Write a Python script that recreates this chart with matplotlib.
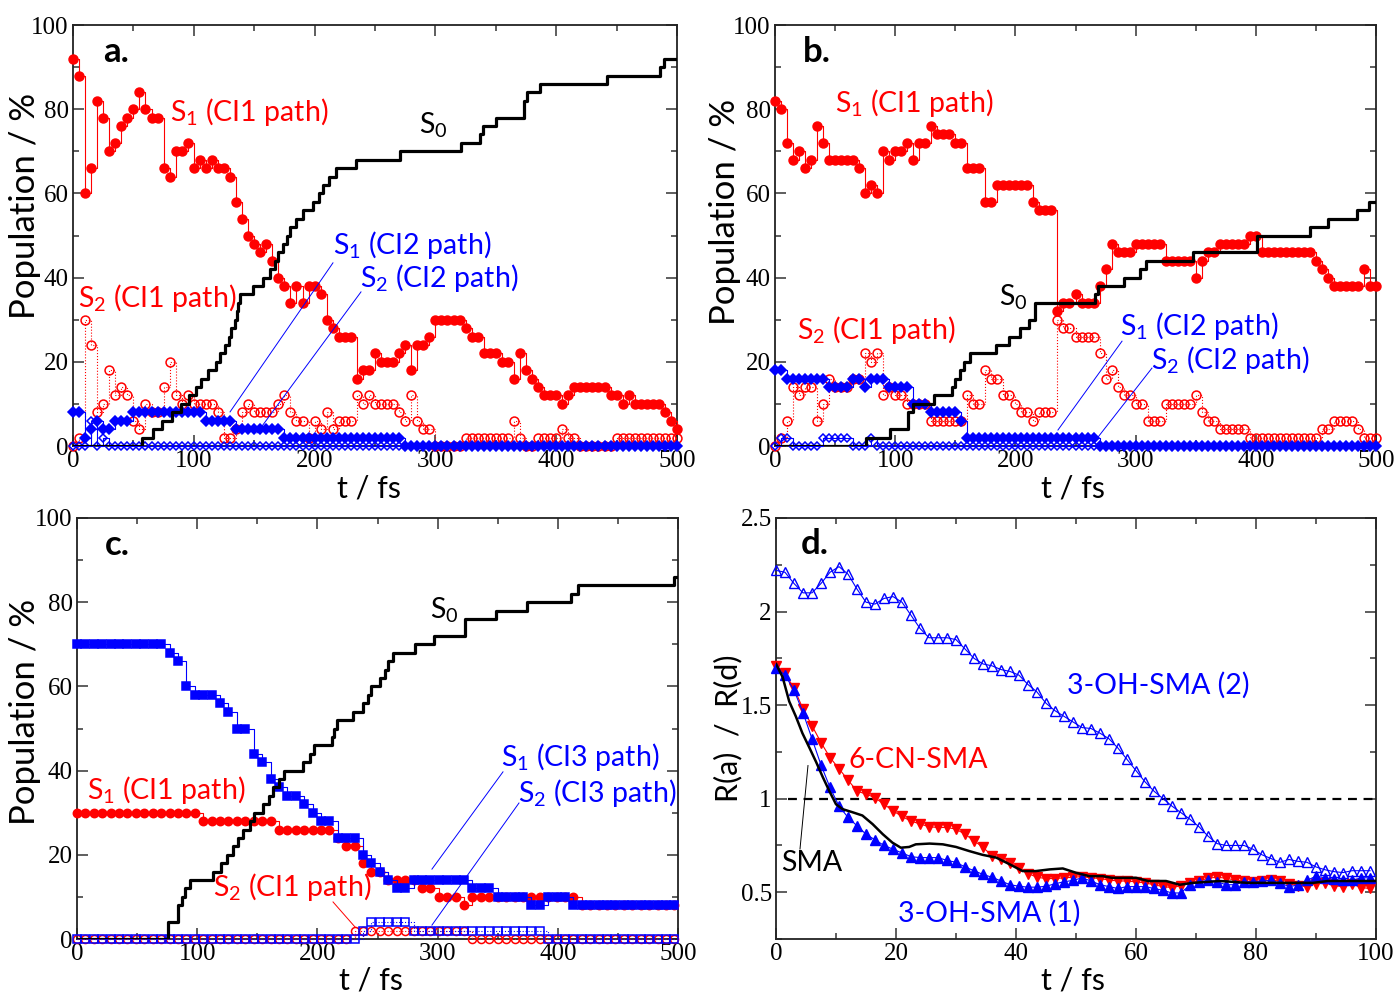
import numpy as np
import matplotlib
matplotlib.use('Agg')
import matplotlib.pyplot as plt
from matplotlib.ticker import MultipleLocator, FuncFormatter

RED = '#ff0000'
BLUE = '#0000ff'

plt.rcParams['font.family'] = ['Lato', 'DejaVu Sans']
plt.rcParams['mathtext.default'] = 'regular'

# ---------------- Panel a data (t grid every 5 fs) ----------------
t_ab = np.arange(0, 501, 5)

a_s1_ci1 = [92, 88, 60, 66, 82, 78, 70, 72, 76, 78,
            80, 84, 80, 78, 78, 66, 64, 70, 70, 72,
            66, 68, 66, 68, 66, 66, 64, 58, 54, 50,
            48, 46, 48, 44, 40, 38, 34, 38, 34, 38,
            38, 36, 30, 28, 26, 26, 26, 16, 18, 18,
            22, 20, 20, 20, 22, 24, 18, 24, 24, 26,
            30, 30, 30, 30, 30, 28, 26, 26, 22, 22,
            22, 20, 20, 16, 22, 18, 16, 14, 12, 12,
            12, 10, 12, 14, 14, 14, 14, 14, 14, 12,
            12, 10, 12, 10, 10, 10, 10, 10, 8, 6,
            4]
a_s2_ci1 = [0, 2, 30, 24, 8, 10, 18, 12, 14, 12,
            6, 4, 10, 8, 8, 14, 20, 12, 10, 12,
            10, 10, 10, 10, 8, 2, 2, 4, 8, 10,
            8, 8, 8, 8, 10, 12, 8, 6, 6, 2,
            6, 4, 8, 4, 6, 6, 6, 12, 10, 12,
            10, 10, 10, 10, 8, 6, 12, 6, 4, 4,
            0, 0, 0, 0, 0, 2, 2, 2, 2, 2,
            2, 2, 2, 6, 2, 0, 0, 2, 2, 2,
            2, 4, 2, 2, 0, 0, 0, 0, 0, 0,
            2, 2, 2, 2, 2, 2, 2, 2, 2, 2,
            2]
a_s1_ci2 = [8, 8, 2, 4, 6, 4, 4, 6, 6, 6,
            8, 8, 8, 8, 8, 8, 8, 8, 8, 8,
            8, 8, 6, 6, 6, 6, 6, 4, 4, 4,
            4, 4, 4, 4, 4, 2, 2, 2, 2, 2,
            2, 2, 2, 2, 2, 2, 2, 2, 2, 2,
            2, 2, 2, 2, 2, 0, 0, 0, 0, 0,
            0, 0, 0, 0, 0, 0, 0, 0, 0, 0,
            0, 0, 0, 0, 0, 0, 0, 0, 0, 0,
            0, 0, 0, 0, 0, 0, 0, 0, 0, 0,
            0, 0, 0, 0, 0, 0, 0, 0, 0, 0,
            0]
a_s2_ci2 = [0, 0, 0, 6, 0, 2, 0, 0, 0, 0,
            0, 0, 0, 0, 0, 0, 0, 0, 0, 0,
            0, 0, 0, 0, 0, 0, 0, 0, 0, 0,
            0, 0, 0, 0, 0, 0, 0, 0, 0, 0,
            0, 0, 0, 0, 0, 0, 0, 0, 0, 0,
            0, 0, 0, 0, 0, 0, 0, 0, 0, 0,
            0, 0, 0, 0, 0, 0, 0, 0, 0, 0,
            0, 0, 0, 0, 0, 0, 0, 0, 0, 0,
            0, 0, 0, 0, 0, 0, 0, 0, 0, 0,
            0, 0, 0, 0, 0, 0, 0, 0, 0, 0,
            0]
a_s0_t = [0, 57, 66, 74, 82, 89, 96, 102, 106, 112, 118, 122, 126, 129, 131, 134,
          136, 137, 138, 149, 157, 163, 167, 170, 174, 177, 180, 185, 190, 199,
          204, 207, 212, 218, 234, 271, 321, 337, 339, 350, 373, 376, 387, 442,
          486, 489, 500]
a_s0_v = [0, 2, 4, 6, 8, 10, 12, 14, 16, 18, 20, 22, 24, 26, 28, 30,
          32, 34, 36, 38, 40, 42, 44, 46, 48, 50, 52, 54, 56, 58,
          60, 62, 64, 66, 68, 70, 72, 74, 76, 78, 82, 84, 86, 88,
          90, 92, 92]

# ---------------- Panel b data ----------------
b_s1_ci1 = [82, 80, 72, 68, 70, 66, 68, 76, 72, 68,
            68, 68, 68, 68, 66, 60, 62, 60, 70, 68,
            70, 70, 72, 68, 72, 72, 76, 74, 74, 74,
            72, 72, 66, 66, 66, 58, 58, 62, 62, 62,
            62, 62, 62, 58, 56, 56, 56, 32, 34, 34,
            36, 34, 34, 34, 38, 42, 48, 46, 46, 46,
            48, 48, 48, 48, 48, 44, 44, 44, 44, 44,
            40, 44, 46, 46, 48, 48, 48, 48, 48, 50,
            50, 46, 46, 46, 46, 46, 46, 46, 46, 46,
            44, 42, 40, 38, 38, 38, 38, 38, 42, 38,
            38]
b_s2_ci1 = [0, 2, 6, 14, 12, 14, 14, 6, 10, 16,
            14, 14, 14, 16, 16, 22, 20, 22, 12, 14,
            12, 12, 10, 10, 10, 10, 6, 6, 6, 6,
            6, 6, 12, 10, 10, 18, 16, 16, 12, 12,
            10, 8, 8, 6, 8, 8, 8, 30, 28, 28,
            26, 26, 26, 26, 22, 16, 18, 14, 12, 12,
            10, 10, 6, 6, 6, 10, 10, 10, 10, 10,
            12, 8, 6, 6, 4, 4, 4, 4, 4, 2,
            2, 2, 2, 2, 2, 2, 2, 2, 2, 2,
            2, 4, 4, 6, 6, 6, 6, 4, 2, 2,
            2]
b_s1_ci2 = [18, 18, 16, 16, 16, 16, 16, 16, 16, 14,
            14, 14, 14, 16, 16, 14, 16, 16, 16, 14,
            14, 14, 14, 10, 10, 10, 8, 8, 8, 8,
            8, 6, 2, 2, 2, 2, 2, 2, 2, 2,
            2, 2, 2, 2, 2, 2, 2, 2, 2, 2,
            2, 2, 2, 2, 0, 0, 0, 0, 0, 0,
            0, 0, 0, 0, 0, 0, 0, 0, 0, 0,
            0, 0, 0, 0, 0, 0, 0, 0, 0, 0,
            0, 0, 0, 0, 0, 0, 0, 0, 0, 0,
            0, 0, 0, 0, 0, 0, 0, 0, 0, 0,
            0]
b_s2_ci2 = [0, 2, 2, 0, 0, 0, 0, 0, 2, 2,
            2, 2, 2, 0, 0, 0, 2, 0, 0, 0,
            0, 0, 0, 0, 0, 0, 0, 0, 0, 0,
            0, 0, 0, 0, 0, 0, 0, 0, 0, 0,
            0, 0, 0, 0, 0, 0, 0, 0, 0, 0,
            0, 0, 0, 0, 0, 0, 0, 0, 0, 0,
            0, 0, 0, 0, 0, 0, 0, 0, 0, 0,
            0, 0, 0, 0, 0, 0, 0, 0, 0, 0,
            0, 0, 0, 0, 0, 0, 0, 0, 0, 0,
            0, 0, 0, 0, 0, 0, 0, 0, 0, 0,
            0]
b_s0_t = [0, 76, 96, 111, 115, 132, 147, 150, 154, 157, 162, 184, 195, 204, 211,
          216, 266, 269, 290, 304, 309, 348, 401, 445, 460, 484, 494, 500]
b_s0_v = [0, 2, 4, 8, 10, 12, 14, 16, 18, 20, 22, 24, 26, 28, 30,
          34, 36, 38, 40, 42, 44, 46, 50, 52, 54, 56, 58, 58]

# ---------------- Panel c data (t grid every 7 fs) ----------------
t_c = np.arange(0, 500, 7)

c_s1_ci3 = [70, 70, 70, 70, 70, 70, 70, 70, 70, 70,
            70, 68, 66, 60, 58, 58, 58, 56, 54, 50,
            50, 44, 42, 38, 36, 34, 34, 32, 30, 28,
            28, 24, 24, 24, 20, 18, 16, 14, 12, 12,
            14, 14, 14, 14, 14, 14, 14, 12, 12, 12,
            10, 10, 10, 10, 8, 8, 10, 10, 10, 8,
            8, 8, 8, 8, 8, 8, 8, 8, 8, 8,
            8, 8]
c_s1_ci1 = [30, 30, 30, 30, 30, 30, 30, 30, 30, 30,
            30, 30, 30, 30, 30, 28, 28, 28, 28, 28,
            28, 28, 28, 28, 26, 26, 26, 26, 26, 26,
            26, 24, 22, 22, 18, 16, 16, 14, 14, 14,
            14, 12, 12, 10, 10, 10, 8, 10, 10, 10,
            10, 10, 10, 10, 10, 10, 10, 10, 10, 10,
            8, 8, 8, 8, 8, 8, 8, 8, 8, 8,
            8, 8]
c_s2_ci1 = [0, 0, 0, 0, 0, 0, 0, 0, 0, 0,
            0, 0, 0, 0, 0, 0, 0, 0, 0, 0,
            0, 0, 0, 0, 0, 0, 0, 0, 0, 0,
            0, 0, 0, 2, 2, 2, 2, 2, 2, 2,
            2, 2, 2, 2, 2, 2, 2, 0, 0, 0,
            0, 0, 0, 0, 0, 0, 0, 0, 0, 0,
            0, 0, 0, 0, 0, 0, 0, 0, 0, 0,
            0, 0]
c_s2_ci3 = [0, 0, 0, 0, 0, 0, 0, 0, 0, 0,
            0, 0, 0, 0, 0, 0, 0, 0, 0, 0,
            0, 0, 0, 0, 0, 0, 0, 0, 0, 0,
            0, 0, 0, 0, 2, 4, 4, 4, 4, 4,
            2, 2, 2, 2, 2, 2, 2, 2, 2, 2,
            2, 2, 2, 2, 2, 2, 0, 0, 0, 0,
            0, 0, 0, 0, 0, 0, 0, 0, 0, 0,
            0, 0]
c_s0_t = [0, 76, 84, 87, 90, 94, 113, 120, 125, 130, 134, 138, 144, 147, 155, 160,
          163, 168, 172, 188, 194, 197, 212, 214, 216, 230, 238, 242, 245, 252,
          256, 259, 263, 281, 297, 323, 349, 374, 411, 417, 497, 500]
c_s0_v = [0, 4, 8, 10, 12, 14, 16, 18, 20, 22, 24, 26, 28, 30, 32, 34,
          36, 38, 40, 42, 44, 46, 48, 50, 52, 54, 56, 58, 60, 62,
          64, 66, 68, 70, 72, 76, 78, 80, 82, 84, 86, 86]

# ---------------- Panel d data (t grid every 1.5 fs) ----------------
t_d = np.arange(0, 100, 1.5)

d_oh2 = [2.22, 2.21, 2.15, 2.10, 2.10, 2.15, 2.21, 2.24, 2.20, 2.12,
         2.05, 2.04, 2.07, 2.08, 2.05, 1.98, 1.91, 1.86, 1.86, 1.86,
         1.85, 1.80, 1.75, 1.72, 1.71, 1.69, 1.68, 1.66, 1.61, 1.57,
         1.51, 1.47, 1.44, 1.41, 1.38, 1.375, 1.35, 1.32, 1.27, 1.21,
         1.15, 1.09, 1.04, 1.00, 0.96, 0.925, 0.89, 0.85, 0.80, 0.76,
         0.75, 0.75, 0.75, 0.73, 0.70, 0.68, 0.66, 0.675, 0.665, 0.66,
         0.635, 0.62, 0.61, 0.605, 0.615, 0.615, 0.615]
d_cn = [1.71, 1.67, 1.59, 1.48, 1.39, 1.30, 1.22, 1.16, 1.10, 1.04,
        1.025, 1.005, 0.97, 0.935, 0.905, 0.88, 0.865, 0.85, 0.846, 0.846,
        0.837, 0.81, 0.775, 0.74, 0.695, 0.675, 0.657, 0.63, 0.60, 0.58,
        0.573, 0.573, 0.577, 0.58, 0.583, 0.577, 0.573, 0.565, 0.56, 0.56,
        0.555, 0.55, 0.54, 0.53, 0.525, 0.535, 0.55, 0.56, 0.575, 0.58,
        0.575, 0.565, 0.56, 0.555, 0.56, 0.565, 0.56, 0.545, 0.535, 0.53,
        0.545, 0.55, 0.535, 0.53, 0.545, 0.525, 0.52]
d_oh1 = [1.70, 1.66, 1.58, 1.46, 1.32, 1.18, 1.06, 0.96, 0.90, 0.855,
         0.81, 0.78, 0.75, 0.73, 0.71, 0.69, 0.685, 0.685, 0.685, 0.67,
         0.66, 0.635, 0.615, 0.595, 0.58, 0.56, 0.54, 0.532, 0.527, 0.527,
         0.532, 0.545, 0.556, 0.563, 0.577, 0.56, 0.54, 0.53, 0.52, 0.53,
         0.53, 0.53, 0.52, 0.51, 0.496, 0.496, 0.54, 0.556, 0.563, 0.556,
         0.54, 0.54, 0.556, 0.556, 0.56, 0.563, 0.55, 0.53, 0.538, 0.563,
         0.586, 0.577, 0.568, 0.563, 0.563, 0.577, 0.577]
d_sma_t = [0, 1.1, 2.2, 3.3, 4.4, 5.6, 6.7, 7.8, 8.9, 10, 11.1, 12.8, 14.4, 16.1,
           17.8, 19.4, 20.8, 22.2, 23.3, 25.6, 27.8, 30, 32.2, 34.4, 36.7, 38.9,
           41.1, 43.3, 45.6, 47.8, 50, 52.2, 54.4, 56, 60, 62, 65, 67.3, 69.5,
           74, 78.6, 83, 86, 89.5, 92, 96, 100]
d_sma = [1.72, 1.65, 1.52, 1.44, 1.35, 1.27, 1.195, 1.115, 1.04, 0.97, 0.944,
         0.927, 0.91, 0.864, 0.81, 0.765, 0.738, 0.742, 0.756, 0.76, 0.756,
         0.742, 0.72, 0.70, 0.685, 0.65, 0.613, 0.613, 0.622, 0.627, 0.604,
         0.586, 0.586, 0.577, 0.577, 0.56, 0.56, 0.54, 0.55, 0.56, 0.55, 0.55,
         0.55, 0.55, 0.56, 0.56, 0.56]

# ---------------- Figure ----------------
W, H = 1399, 996
fig = plt.figure(figsize=(W / 100, H / 100), dpi=100)


def px_axes(l, r, t, b):
    return fig.add_axes([l / W, 1 - b / H, (r - l) / W, (b - t) / H])


axa = px_axes(73, 677, 25, 446)
axb = px_axes(775, 1376, 25, 446)
axc = px_axes(77, 678, 518, 939)
axd = px_axes(776, 1376, 518, 939)

TICKFONT = dict(family='Liberation Serif', size=18)
XLABSIZE = 22
ANNSIZE = 20.5


def style(ax, xmaj, xmin, ymaj, ymin):
    ax.xaxis.set_major_locator(MultipleLocator(xmaj))
    ax.xaxis.set_minor_locator(MultipleLocator(xmin))
    ax.yaxis.set_major_locator(MultipleLocator(ymaj))
    ax.yaxis.set_minor_locator(MultipleLocator(ymin))
    ax.tick_params(which='both', direction='in', top=True, right=True,
                   width=1.1, color='#333333', pad=3)
    ax.tick_params(which='major', length=8)
    ax.tick_params(which='minor', length=4.5)
    for lab in ax.get_xticklabels() + ax.get_yticklabels():
        lab.set_fontfamily(TICKFONT['family'])
        lab.set_fontsize(TICKFONT['size'])
    ax.xaxis.set_major_formatter(FuncFormatter(lambda v, p: '%g' % v))
    ax.yaxis.set_major_formatter(FuncFormatter(lambda v, p: '%g' % v))
    for s in ax.spines.values():
        s.set_linewidth(1.3)
        s.set_color('#222222')


def labels(ax, ylab, xl_y, yl_x, yl_y, xl_x=0.49, ysize=25):
    ax.text(xl_x, xl_y, 't / fs', transform=ax.transAxes, ha='center',
            va='center', fontsize=XLABSIZE)
    ax.text(yl_x, yl_y, ylab, transform=ax.transAxes, ha='center',
            va='center', rotation=90, fontsize=ysize)


def ms_series(ax, t, v, color, marker, filled, ms, ls='-', z=3):
    ax.plot(t, v, color=color, lw=0.8, ls=ls, drawstyle='steps-post',
            marker=marker, ms=ms, mec=color,
            mfc=color if filled else 'none', mew=1.1, clip_on=False, zorder=z)


# ---- panel a ----
ax = axa
ms_series(ax, t_ab, a_s2_ci1, RED, 'o', False, 6.4, ls=':', z=3)
ms_series(ax, t_ab, a_s1_ci1, RED, 'o', True, 6.4, z=4)
ms_series(ax, t_ab, a_s2_ci2, BLUE, 'D', False, 4.5, z=5)
ms_series(ax, t_ab, a_s1_ci2, BLUE, 'D', True, 5.0, z=6)
ax.plot(a_s0_t, a_s0_v, color='black', lw=2.3, drawstyle='steps-post', zorder=7)
ax.set_xlim(0, 500)
ax.set_ylim(0, 100)
style(ax, 100, 50, 20, 10)
ax.text(36, 93.6, 'a.', fontsize=25, fontweight='bold', ha='center', va='center')
ax.text(145.7, 79.3, 'S$_1$ (CI1 path)', color=RED, fontsize=ANNSIZE, ha='center', va='center')
ax.text(298, 76.2, 'S$_0$', color='black', fontsize=ANNSIZE, ha='center', va='center')
ax.text(69.5, 35.2, 'S$_2$ (CI1 path)', color=RED, fontsize=ANNSIZE, ha='center', va='center')
ax.text(280.6, 47.7, 'S$_1$ (CI2 path)', color=BLUE, fontsize=ANNSIZE, ha='center', va='center')
ax.text(303, 39.9, 'S$_2$ (CI2 path)', color=BLUE, fontsize=ANNSIZE, ha='center', va='center')
ax.plot([215.2, 130], [43.5, 8.1], color=BLUE, lw=0.7, zorder=8)
ax.plot([238.4, 152.3], [36.6, 3.1], color=BLUE, lw=0.7, zorder=8)
labels(ax, 'Population / %', -0.1, -0.079, 0.57)

# ---- panel b ----
ax = axb
ms_series(ax, t_ab, b_s2_ci1, RED, 'o', False, 6.4, ls=':', z=3)
ms_series(ax, t_ab, b_s1_ci1, RED, 'o', True, 6.4, z=4)
ms_series(ax, t_ab, b_s2_ci2, BLUE, 'D', False, 4.5, z=5)
ms_series(ax, t_ab, b_s1_ci2, BLUE, 'D', True, 5.0, z=6)
ax.plot(b_s0_t, b_s0_v, color='black', lw=2.3, drawstyle='steps-post', zorder=7)
ax.set_xlim(0, 500)
ax.set_ylim(0, 100)
style(ax, 100, 50, 20, 10)
ax.text(35, 93.6, 'b.', fontsize=25, fontweight='bold', ha='center', va='center')
ax.text(115.6, 81.5, 'S$_1$ (CI1 path)', color=RED, fontsize=ANNSIZE, ha='center', va='center')
ax.text(198, 35.4, 'S$_0$', color='black', fontsize=ANNSIZE, ha='center', va='center')
ax.text(84, 27.6, 'S$_2$ (CI1 path)', color=RED, fontsize=ANNSIZE, ha='center', va='center')
ax.text(352.7, 28.5, 'S$_1$ (CI2 path)', color=BLUE, fontsize=ANNSIZE, ha='center', va='center')
ax.text(378.5, 20.4, 'S$_2$ (CI2 path)', color=BLUE, fontsize=ANNSIZE, ha='center', va='center')
ax.plot([288.7, 235.4], [24.9, 3.8], color=BLUE, lw=0.7, zorder=8)
ax.plot([313.6, 268.7], [18.5, 2.1], color=BLUE, lw=0.7, zorder=8)
labels(ax, 'Population / %', -0.1, -0.083, 0.555, xl_x=0.496)

# ---- panel c ----
ax = axc
ms_series(ax, t_c, c_s2_ci1, RED, 'o', False, 5.8, ls=':', z=3)
ms_series(ax, t_c, c_s2_ci3, BLUE, 's', False, 5.2, ls=':', z=4)
ms_series(ax, t_c, c_s1_ci1, RED, 'o', True, 6.0, z=5)
ms_series(ax, t_c, c_s1_ci3, BLUE, 's', True, 5.6, z=6)
ax.plot(c_s0_t, c_s0_v, color='black', lw=2.3, drawstyle='steps-post', zorder=7)
ax.set_xlim(0, 500)
ax.set_ylim(0, 100)
style(ax, 100, 50, 20, 10)
ax.text(33.3, 93.6, 'c.', fontsize=25, fontweight='bold', ha='center', va='center')
ax.text(306, 78.1, 'S$_0$', color='black', fontsize=ANNSIZE, ha='center', va='center')
ax.text(74, 35.4, 'S$_1$ (CI1 path)', color=RED, fontsize=ANNSIZE, ha='center', va='center')
ax.text(179, 12.4, 'S$_2$ (CI1 path)', color=RED, fontsize=ANNSIZE, ha='center', va='center')
ax.text(418.5, 43.2, 'S$_1$ (CI3 path)', color=BLUE, fontsize=ANNSIZE, ha='center', va='center')
ax.text(432.6, 34.7, 'S$_2$ (CI3 path)', color=BLUE, fontsize=ANNSIZE, ha='center', va='center')
ax.plot([213, 231.3], [8.8, 2.85], color=RED, lw=0.7, zorder=8)
ax.plot([354.4, 295.3], [39.7, 16.6], color=BLUE, lw=0.7, zorder=8)
ax.plot([367.7, 295.3], [32.3, 3.3], color=BLUE, lw=0.7, zorder=8)
labels(ax, 'Population / %', -0.098, -0.0865, 0.54)

# ---- panel d ----
ax = axd
ax.plot([2, 100], [1, 1], color='black', lw=1.6, ls=(0, (4, 3)), zorder=2)
ax.plot(t_d, d_cn, color=RED, lw=0.8, marker='v', ms=7.5, mec=RED, mfc=RED,
        clip_on=False, zorder=3)
ax.plot(t_d, d_oh1, color=BLUE, lw=0.8, marker='^', ms=7.5, mec=BLUE, mfc=BLUE,
        clip_on=False, zorder=4)
ax.plot(t_d, d_oh2, color=BLUE, lw=0.8, marker='^', ms=7.5, mec=BLUE, mfc='none',
        mew=1.0, clip_on=False, zorder=5)
ax.plot(d_sma_t, d_sma, color='black', lw=1.8, zorder=6)
ax.set_xlim(0, 100)
ax.set_ylim(0.25, 2.5)
style(ax, 20, 10, 0.5, 0.25)
ax.text(6.5, 2.36, 'd.', fontsize=25, fontweight='bold', ha='center', va='center')
ax.text(63.7, 1.607, '3-OH-SMA (2)', color=BLUE, fontsize=ANNSIZE, ha='center', va='center')
ax.text(23.7, 1.204, '6-CN-SMA', color=RED, fontsize=ANNSIZE, ha='center', va='center')
ax.text(6, 0.656, 'SMA', color='black', fontsize=ANNSIZE, ha='center', va='center')
ax.text(35.5, 0.387, '3-OH-SMA (1)', color=BLUE, fontsize=ANNSIZE, ha='center', va='center')
ax.plot([5.33, 4.0], [1.177, 0.731], color='black', lw=0.7, zorder=8)
labels(ax, 'R(a)  /  R(d)', -0.098, -0.08, 0.5, xl_x=0.495, ysize=22)

fig.savefig('out.png', dpi=100)
